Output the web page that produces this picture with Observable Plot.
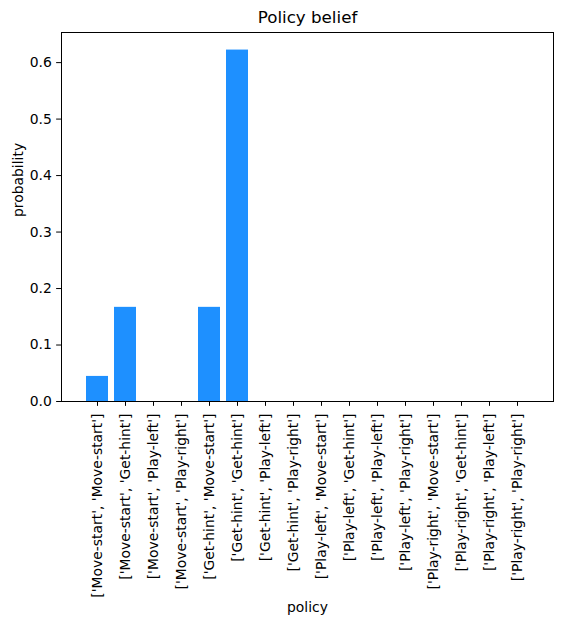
<!DOCTYPE html>
<html>
<head>
<meta charset="utf-8">
<script src="https://cdn.jsdelivr.net/npm/d3@7"></script>
<script src="https://cdn.jsdelivr.net/npm/@observablehq/plot@0.6"></script>
<style>
  html, body { margin: 0; padding: 0; background: #fff; }
</style>
</head>
<body>
<div id="chart"></div>
<script>
const policies = [
  "['Move-start', 'Move-start']",
  "['Move-start', 'Get-hint']",
  "['Move-start', 'Play-left']",
  "['Move-start', 'Play-right']",
  "['Get-hint', 'Move-start']",
  "['Get-hint', 'Get-hint']",
  "['Get-hint', 'Play-left']",
  "['Get-hint', 'Play-right']",
  "['Play-left', 'Move-start']",
  "['Play-left', 'Get-hint']",
  "['Play-left', 'Play-left']",
  "['Play-left', 'Play-right']",
  "['Play-right', 'Move-start']",
  "['Play-right', 'Get-hint']",
  "['Play-right', 'Play-left']",
  "['Play-right', 'Play-right']"
];
const probabilities = [0.0444, 0.1667, 0, 0, 0.1667, 0.6222, 0, 0, 0, 0, 0, 0, 0, 0, 0, 0];
const yTicks = [0, 0.1, 0.2, 0.3, 0.4, 0.5, 0.6];
const titleText = "Policy belief";
const xLabel = "policy";
const yLabel = "probability";

const data = policies.map((p, i) => ({policy: p, probability: probabilities[i]}));
const yMax = d3.max(probabilities) * 1.05;

const chart = Plot.plot({
  width: 567,
  height: 625,
  marginTop: 32,
  marginLeft: 61,
  marginRight: 14,
  marginBottom: 224,
  style: {fontFamily: "DejaVu Sans", fontSize: "13.9px", color: "black", background: "white"},
  x: {domain: policies, paddingInner: 0.2, paddingOuter: 0.79, align: 0.5},
  y: {domain: [0, yMax]},
  marks: [
    Plot.barY(data, {x: "policy", y: "probability", fill: "#1E90FF"}),
    Plot.axisY({ticks: yTicks, tickFormat: d3.format(".1f"), tickSize: 4.86, tickPadding: 4.86, label: null, fontSize: 13.9}),
    Plot.axisX({tickSize: 4.86, tickFormat: () => "", label: null}),
    Plot.text(data, {x: "policy", text: "policy", frameAnchor: "bottom", rotate: -90, textAnchor: "end", lineAnchor: "middle", dy: 12, fontSize: 13.9, fill: "black"}),
    Plot.frame({stroke: "black", strokeWidth: 1}),
    Plot.text([titleText], {frameAnchor: "top", dy: -15, lineAnchor: "middle", fontSize: 16.7, fill: "black"}),
    Plot.text([xLabel], {frameAnchor: "bottom", dy: 206, lineAnchor: "middle", fontSize: 13.9, fill: "black"}),
    Plot.text([yLabel], {frameAnchor: "left", dx: -43, rotate: -90, lineAnchor: "middle", fontSize: 13.9, fill: "black"})
  ]
});
document.getElementById("chart").appendChild(chart);
</script>
</body>
</html>
